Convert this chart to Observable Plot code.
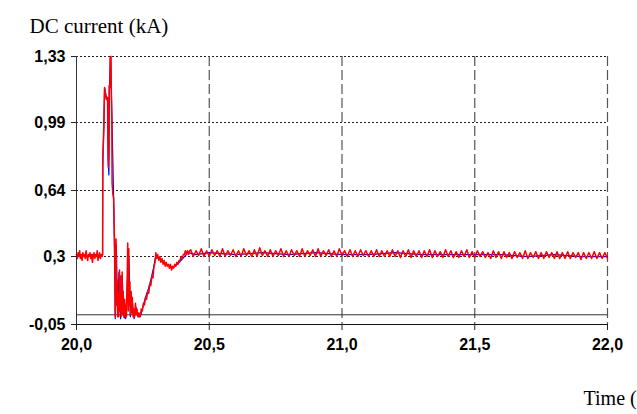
<!DOCTYPE html>
<html>
<head>
<meta charset="utf-8">
<script src="https://cdn.jsdelivr.net/npm/d3@7"></script>
<script src="https://cdn.jsdelivr.net/npm/@observablehq/plot@0.6"></script>
<style>
  html, body { margin: 0; padding: 0; background: #fff; overflow: hidden; }
</style>
</head>
<body>
<div id="chart"></div>
<script>
// ---- tick values and labels ----
const yTicks = [-0.05, 0.3, 0.64, 0.99, 1.33];
const yTickLabels = ["-0,05", "0,3", "0,64", "0,99", "1,33"];
const xTicks = [20, 20.5, 21, 21.5, 22];
const xTickLabels = ["20,0", "20,5", "21,0", "21,5", "22,0"];
const titleText = "DC current (kA)";
const xTitleText = "Time (";

// ---- red series: pre-fault samples (regular sampling) ----
const preStart = 20.000, preStep = 0.003;
const redPreV = [0.31,0.29,0.32,0.30,0.33,0.29,0.31,0.28,0.32,0.30,0.31,0.29,0.33,0.30,0.28,0.31,0.30,0.32,0.29,0.31,0.27,0.30,0.32,0.29,0.31,0.30,0.33,0.28,0.30,0.32,0.29,0.31,0.30];

// ---- red series: transient (irregular samples) ----
const redTransT = [20.0985,20.099,20.1025,20.1055,20.108,20.112,20.117,20.118,20.120,20.122,20.123,20.126,20.127,20.130,20.131,20.133,20.134,20.137,20.140,
  20.143,20.146,20.149,20.151,20.153,20.155,20.157,20.159,20.162,20.164,20.166,20.168,20.170,20.172,20.174,20.176,20.178,20.181,20.183,20.186,20.188,
  20.191,20.193,20.195,20.197,20.199,20.201,20.203,20.206,20.208,20.210,20.213,20.216,20.219,20.222,20.225,20.228,20.231,20.235,20.238,20.241,
  20.244,20.248,20.252,20.256,20.260,20.264,20.268,20.272,20.276,20.280,20.284,20.288,20.292,20.296,20.299,
  20.302,20.306,20.310,20.314,20.318,20.322,20.326,20.330,20.334,20.338,20.342,20.346,20.350,20.354,20.358,20.362,
  20.366,20.370,20.374,20.378,20.382,20.386,20.390,20.394,20.398,20.402,20.406,20.410,20.414,20.418,20.422,20.426];
const redTransV = [0.31,0.77,0.96,1.17,1.15,1.11,1.12,0.91,0.76,0.85,1.18,1.17,1.33,1.33,1.17,1.00,0.68,0.62,0.60,
  0.39,-0.01,0.39,0.05,0.18,-0.01,0.10,-0.01,0.23,0.02,0.20,-0.01,0.15,0.22,0.00,0.12,-0.01,0.08,-0.01,0.05,-0.01,
  0.20,0.37,0.02,0.34,0.05,0.17,0.00,0.12,0.01,0.09,-0.01,0.03,-0.01,0.06,0.00,0.03,-0.01,0.01,-0.01,0.00,
  0.03,0.02,0.06,0.05,0.09,0.08,0.12,0.11,0.16,0.15,0.20,0.19,0.25,0.27,0.32,
  0.29,0.31,0.28,0.30,0.27,0.29,0.26,0.28,0.25,0.27,0.25,0.26,0.24,0.26,0.23,0.25,
  0.24,0.26,0.25,0.27,0.26,0.28,0.28,0.30,0.29,0.31,0.31,0.33,0.31,0.33,0.31,0.33];

// ---- red series: steady state with ripple (regular sampling) ----
const steadyStart = 20.43, steadyStep = 0.01;
const redSteadyV = [
  0.335,0.300,0.330,0.305,0.340,0.300,0.330,0.300,0.335,0.305,
  0.330,0.300,0.340,0.300,0.330,0.305,0.335,0.300,0.330,0.300,
  0.340,0.305,0.330,0.300,0.335,0.300,0.345,0.305,0.330,0.300,
  0.335,0.300,0.330,0.305,0.340,0.300,0.330,0.300,0.335,0.305,
  0.330,0.300,0.340,0.300,0.330,0.305,0.335,0.300,0.340,0.300,
  0.330,0.305,0.335,0.300,0.330,0.300,0.340,0.305,0.330,0.300,
  0.335,0.300,0.330,0.300,0.335,0.305,0.330,0.300,0.330,0.300,
  0.335,0.300,0.330,0.300,0.330,0.300,0.335,0.300,0.330,0.295,
  0.330,0.300,0.335,0.295,0.330,0.300,0.330,0.295,0.330,0.300,
  0.335,0.295,0.330,0.300,0.325,0.295,0.335,0.300,0.330,0.295,
  0.325,0.295,0.330,0.300,0.335,0.295,0.325,0.295,0.330,0.300,
  0.325,0.295,0.320,0.290,0.330,0.295,0.325,0.290,0.325,0.295,
  0.320,0.290,0.325,0.295,0.320,0.290,0.330,0.290,0.320,0.295,
  0.325,0.290,0.320,0.290,0.325,0.295,0.320,0.290,0.325,0.290,
  0.320,0.290,0.325,0.290,0.320,0.295,0.320,0.285,0.320,0.290,
  0.320,0.290,0.325,0.290,0.320,0.290,0.320,0.290];

// ---- blue series (explicit samples) ----
const blueT = [20.000,20.020,20.040,20.060,20.080,20.098,20.099,20.103,20.106,20.112,20.117,20.119,20.122,20.124,20.128,20.131,20.134,20.140,
  20.143,20.146,20.150,20.155,20.160,20.166,20.172,20.178,20.185,20.192,20.197,20.203,20.210,20.217,20.224,20.232,20.240,
  20.250,20.260,20.270,20.280,20.290,20.298,20.320,20.340,20.360,20.380,20.400,20.420,20.450,
  20.50,20.60,20.70,20.80,20.90,21.00,21.10,21.20,21.30,21.40,21.50,21.60,21.70,21.80,21.90,22.00];
const blueV = [0.30,0.31,0.30,0.31,0.30,0.31,0.80,0.96,1.17,1.12,1.10,0.80,0.72,1.17,1.33,1.17,0.98,0.58,
  0.35,-0.02,0.36,0.00,0.22,-0.02,0.20,-0.01,-0.02,0.18,0.30,-0.01,0.07,-0.02,0.04,-0.01,-0.01,
  0.04,0.09,0.13,0.18,0.24,0.30,0.28,0.26,0.24,0.26,0.29,0.32,0.31,
  0.32,0.31,0.32,0.31,0.32,0.31,0.31,0.32,0.31,0.31,0.31,0.31,0.30,0.31,0.30,0.30];

// ---- build tables ----
const red = [
  ...redPreV.map((v, i) => ({t: preStart + i * preStep, v})),
  ...redTransT.map((t, i) => ({t, v: redTransV[i]})),
  ...redSteadyV.map((v, i) => ({t: steadyStart + i * steadyStep, v}))
];
const blue = blueT.map((t, i) => ({t, v: blueV[i]}));

const chart = Plot.plot({
  width: 637,
  height: 414,
  marginLeft: 76,
  marginRight: 30,
  marginTop: 56,
  marginBottom: 90,
  style: {fontFamily: "'Liberation Sans', Arial, sans-serif", fontSize: "16px", fontWeight: "bold", background: "#fff", color: "#000", overflow: "visible"},
  x: {domain: [20, 22]},
  y: {domain: [-0.05, 1.33]},
  marks: [
    Plot.ruleY(yTicks.slice(1), {stroke: "#222", strokeDasharray: "2,2", strokeWidth: 1}),
    Plot.ruleX(xTicks.slice(1), {stroke: "#555", strokeDasharray: "10,4", strokeWidth: 1.2}),
    Plot.ruleY([0], {stroke: "#333", strokeWidth: 1}),
    Plot.line(blue, {x: "t", y: "v", stroke: "#0000ff", strokeWidth: 1.2}),
    Plot.line(red, {x: "t", y: "v", stroke: "#ff0000", strokeWidth: 1.5}),
    Plot.ruleX([20], {stroke: "#333", strokeWidth: 1}),
    Plot.ruleY([-0.05], {stroke: "#111", strokeWidth: 1}),
    Plot.axisY(yTicks, {tickSize: 5, tickPadding: 6, label: null, stroke: "#222",
      tickFormat: d => yTickLabels[yTicks.indexOf(d)]}),
    Plot.axisX(xTicks, {tickSize: 6, tickPadding: 8, label: null, stroke: "#222",
      tickFormat: d => xTickLabels[xTicks.indexOf(d)]}),
    Plot.text([titleText], {frameAnchor: "top-left", dx: -47, dy: -38, textAnchor: "start",
      fontFamily: "'Liberation Serif', 'Times New Roman', serif", fontWeight: "normal", fontSize: 21, fill: "#000"}),
    Plot.text([xTitleText], {frameAnchor: "bottom-right", dx: -24, dy: 80, textAnchor: "start",
      fontFamily: "'Liberation Serif', 'Times New Roman', serif", fontWeight: "normal", fontSize: 20, fill: "#000"})
  ]
});
document.getElementById("chart").appendChild(chart);
</script>
</body>
</html>
